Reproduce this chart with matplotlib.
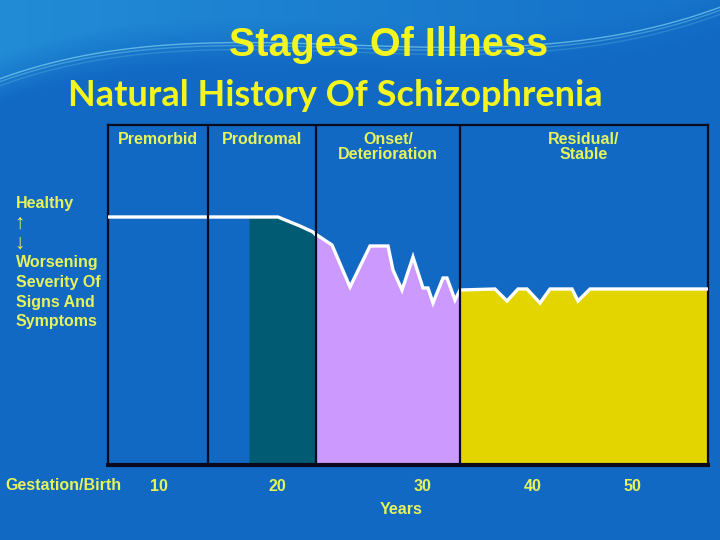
import numpy as np
import matplotlib
matplotlib.use("Agg")
import matplotlib.pyplot as plt

W, H = 720, 540

# severity curve: x = position across the chart box, y = health level (higher = healthier)
curve_x = [0, 100, 141, 170, 192, 205, 208, 209, 224, 242, 262, 280, 285, 294, 305,
           315, 320, 325, 335, 339, 347, 352, 387, 399, 410, 419, 432, 442, 464, 470,
           482, 600]
curve_y = [248, 248, 248, 248, 239, 233, 230, 230, 220, 178, 219, 219, 195, 175, 208,
           177, 177, 162, 187, 187, 165, 175, 176, 164, 176, 176, 162, 176, 176, 164,
           176, 176]

stage_names = ["Premorbid", "Prodromal", "Onset/\nDeterioration", "Residual/\nStable"]
stage_edges = [0, 100, 208, 352, 600]
prodrome_start = 141

tick_labels = ["10", "20", "30", "40", "50"]
tick_pos = [51, 169, 315, 425, 524]

left_labels = ["Healthy", "\u2191", "\u2193", "Worsening", "Severity Of", "Signs And", "Symptoms"]

BG = "#1169c4"
TITLE = "#f4f41e"
LABEL = "#e6f35a"
FONT = ["Liberation Sans", "DejaVu Sans"]

fig = plt.figure(figsize=(W / 100, H / 100), dpi=100, facecolor=BG)

# background: lighter top with a thin swoosh
bg = fig.add_axes([0, 0, 1, 1])
swoosh = np.polyfit([0, 100, 230, 360, 520, 620, 720], [78, 55, 40, 46, 48, 32, 8], 4)
yy, xx = np.mgrid[0:H, 0:W]
base = np.array([0x11, 0x69, 0xc4]) / 255
light = np.array([0x22, 0x8c, 0xd6]) / 255
arc = np.polyval(swoosh, xx)
band = np.clip((arc - yy) / 50 + 0.5, 0, 1) * np.clip(1 - xx / 900, 0.35, 1)
img = base + (light - base) * band[..., None]
bg.imshow(img, extent=(0, W, H, 0), aspect="auto", interpolation="bilinear")
sx = np.linspace(0, W, 300)
sy = np.polyval(swoosh, sx)
for k, a in [(0, 0.6), (3, 0.35), (7, 0.2)]:
    bg.plot(sx, sy + k, color="#8fe0f5", lw=1.0, alpha=a)
bg.set_xlim(0, W)
bg.set_ylim(H, 0)
bg.axis("off")

def px(x, y):
    return x / W, 1 - y / H

# chart box
x0, x1, ytop, ybot = 108, 708, 125, 465
ax = fig.add_axes([x0 / W, 1 - ybot / H, (x1 - x0) / W, (ybot - ytop) / H])
ax.set_xlim(0, 600)
ax.set_ylim(0, 340)
ax.patch.set_facecolor(BG)

cx = np.array(curve_x, float)
cy = np.array(curve_y, float)
m = (cx >= prodrome_start) & (cx <= stage_edges[2])
ax.fill_between(cx[m], 0, cy[m], color="#015c73", lw=0)
m = (cx >= stage_edges[2]) & (cx <= stage_edges[3])
ax.fill_between(cx[m], 0, cy[m], color="#cc99ff", lw=0)
m = cx >= stage_edges[3]
ax.fill_between(cx[m], 0, cy[m], color="#e2d500", lw=0)
ax.plot(cx, cy, color="white", lw=2.4, solid_joinstyle="miter", zorder=3)

for e in stage_edges[1:-1]:
    ax.axvline(e, color="#0a0a1e", lw=1.6, zorder=4)

for s in ["top", "left", "right"]:
    ax.spines[s].set_color("#0a0a1e")
    ax.spines[s].set_linewidth(1.6)
ax.spines["bottom"].set_color("#0a0a1e")
ax.spines["bottom"].set_linewidth(3)

ax.set_xticks(tick_pos)
ax.set_xticklabels(tick_labels, fontsize=11.5, fontweight="bold", color=LABEL,
                   family=FONT)
ax.tick_params(axis="x", length=0, pad=10)
ax.set_yticks([])

for name, a, b in zip(stage_names, stage_edges[:-1], stage_edges[1:]):
    ax.text((a + b) / 2, 333, name, ha="center", va="top", fontsize=11.5,
            fontweight="bold", color=LABEL, family=FONT, linespacing=1.0)

fig.text(*px(5, 486), "Gestation/Birth", ha="left", va="center", fontsize=11.5,
         fontweight="bold", color=LABEL, family=FONT)
fig.text(*px(401, 509), "Years", ha="center", va="center", fontsize=11.5,
         fontweight="bold", color=LABEL, family=FONT)

for i, s in enumerate(left_labels):
    arrow = s in ("\u2191", "\u2193")
    fig.text(*px(16 if not arrow else 14, 203 + i * 19.8), s, ha="left", va="center",
             fontsize=15 if arrow else 11.5, fontweight="normal" if arrow else "bold",
             color=LABEL, family=FONT)

fig.text(*px(389, 45), "Stages Of Illness", ha="center", va="center", fontsize=28.5,
         fontweight="bold", color=TITLE, family=FONT)
fig.text(*px(335, 95), "Natural History Of Schizophrenia", ha="center", va="center",
         fontsize=26, fontweight="bold", color=TITLE, family="Lato")

fig.savefig("out.png", dpi=100, facecolor=BG)
